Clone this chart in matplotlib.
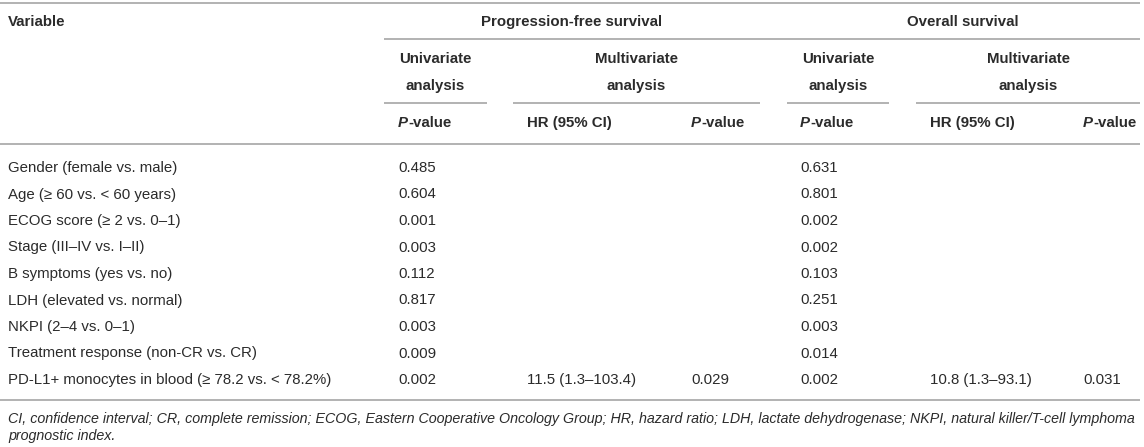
import matplotlib
matplotlib.use("Agg")
import matplotlib.pyplot as plt

# ---------------- data ----------------
variables = [
    "Gender (female vs. male)",
    "Age (\u2265 60 vs. < 60 years)",
    "ECOG score (\u2265 2 vs. 0\u20131)",
    "Stage (III\u2013IV vs. I\u2013II)",
    "B symptoms (yes vs. no)",
    "LDH (elevated vs. normal)",
    "NKPI (2\u20134 vs. 0\u20131)",
    "Treatment response (non-CR vs. CR)",
    "PD-L1+ monocytes in blood (\u2265 78.2 vs. < 78.2%)",
]
pfs_uni_p = ["0.485", "0.604", "0.001", "0.003", "0.112", "0.817", "0.003", "0.009", "0.002"]
pfs_multi_hr = ["", "", "", "", "", "", "", "", "11.5 (1.3\u2013103.4)"]
pfs_multi_p = ["", "", "", "", "", "", "", "", "0.029"]
os_uni_p = ["0.631", "0.801", "0.002", "0.002", "0.103", "0.251", "0.003", "0.014", "0.002"]
os_multi_hr = ["", "", "", "", "", "", "", "", "10.8 (1.3\u201393.1)"]
os_multi_p = ["", "", "", "", "", "", "", "", "0.031"]

group_titles = ["Progression-free survival", "Overall survival"]
sub_titles = [("Univariate", "analysis"), ("Multivariate", "analysis")]
footnote_lines = [
    "CI, confidence interval; CR, complete remission; ECOG, Eastern Cooperative Oncology Group; "
    "HR, hazard ratio; LDH, lactate dehydrogenase; NKPI, natural killer/T-cell lymphoma",
    "prognostic index.",
]

# ---------------- layout ----------------
W, H = 1144, 447
DPI = 100
fig = plt.figure(figsize=(W / DPI, H / DPI), dpi=DPI)
ax = fig.add_axes([0, 0, 1, 1])
ax.set_xlim(0, W)
ax.set_ylim(H, 0)
ax.axis("off")

FONT = "Liberation Sans"
FS = 15.0 * 72 / DPI
FS_B = 15.0 * 72 / DPI
FS_FN = 14.3 * 72 / DPI
TXT = "#2b2b2b"
LINE = "#b4b4b4"
LW = 2.0 * 72 / DPI

col_x = [8, 398, 527, 691, 800, 930, 1083]
row_y0, row_dy = 168, 26.5

def hline(x0, x1, y):
    ax.plot([x0, x1], [y, y], color=LINE, lw=LW, solid_capstyle="butt")

def txt(x, y, s, ha="left", weight="normal", style="normal", fs=None):
    if fs is None:
        fs = FS_B if weight == "bold" else FS
    return ax.text(x, y, s, ha=ha, va="center", fontsize=fs, family=FONT,
                   color=TXT, weight=weight, style=style)

# rules
hline(0, 1140, 3)
hline(384, 760, 39)
hline(760, 1140, 39)
hline(384, 487, 103)
hline(513, 760, 103)
hline(787, 889, 103)
hline(916, 1140, 103)
hline(0, 1140, 144)
hline(0, 1140, 400)

# header
txt(8, 22, "Variable", weight="bold")
txt(572, 22, group_titles[0], ha="center", weight="bold")
txt(963, 22, group_titles[1], ha="center", weight="bold")
for cx, st in zip([435, 636, 838, 1028], sub_titles * 2):
    txt(cx, 59, st[0], ha="center", weight="bold")
    txt(cx, 86, st[1], ha="center", weight="bold")

fig.canvas.draw()
renderer = fig.canvas.get_renderer()
inv = ax.transData.inverted()

def pvalue_header(x, y):
    t = txt(x, y, "P", weight="bold", style="italic")
    bb = t.get_window_extent(renderer)
    x_end = inv.transform((bb.x1, bb.y0))[0]
    txt(x_end + 0.5, y, "-value", weight="bold")

pvalue_header(col_x[1], 123)
txt(col_x[2], 123, "HR (95% CI)", weight="bold")
pvalue_header(col_x[3], 123)
pvalue_header(col_x[4], 123)
txt(col_x[5], 123, "HR (95% CI)", weight="bold")
pvalue_header(col_x[6], 123)

# body
columns = [variables, pfs_uni_p, pfs_multi_hr, pfs_multi_p, os_uni_p, os_multi_hr, os_multi_p]
for i in range(len(variables)):
    y = row_y0 + i * row_dy
    for cx, col in zip(col_x, columns):
        if col[i]:
            txt(cx, y, col[i])

# footnote
for k, line in enumerate(footnote_lines):
    txt(8, 419 + k * 17, line, style="italic", fs=FS_FN)

fig.savefig("out.png", dpi=DPI, facecolor="white")
